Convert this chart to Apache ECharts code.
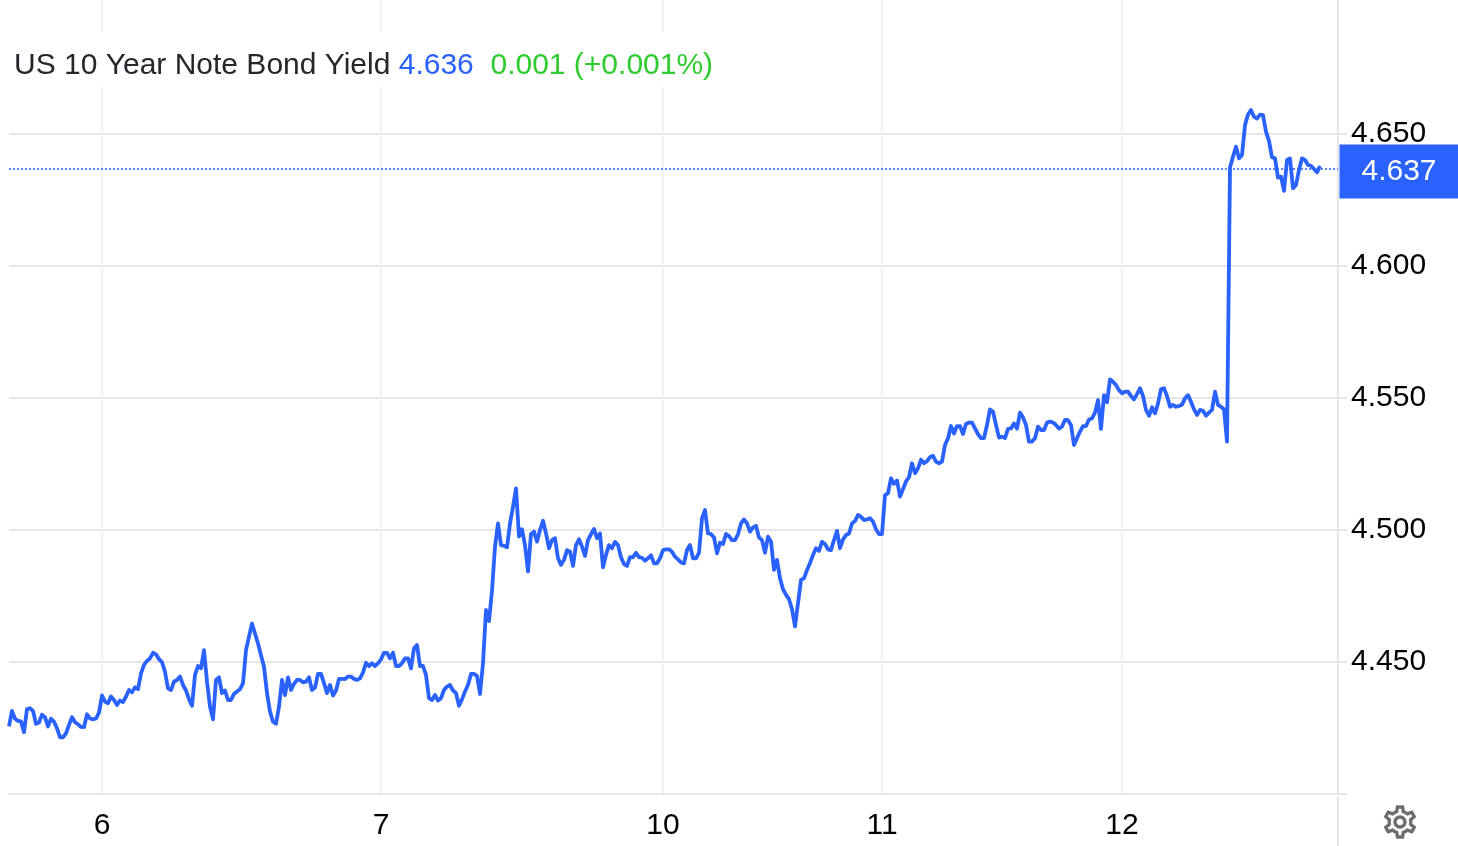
<!DOCTYPE html>
<html>
<head>
<meta charset="utf-8">
<title>US 10 Year Note Bond Yield</title>
<style>
    html, body { margin: 0; padding: 0; background: #fff; }
    #chart { width: 1458px; height: 846px; }
</style>
<script src="https://cdn.jsdelivr.net/npm/echarts@6/dist/echarts.min.js"></script>
</head>
<body>
<div id="chart"></div>
<script>
// bars are evenly spaced
const yields = [
    4.4256,4.4315,4.4285,4.4277,4.4275,4.4234,4.4322,4.4325,4.4315,4.4266,
    4.4271,4.43,4.4291,4.4256,4.4285,4.4274,4.4249,4.4215,4.4215,4.423,
    4.4262,4.4291,4.4272,4.4264,4.4254,4.4253,4.4302,4.4286,4.4283,4.4286,
    4.4308,4.4373,4.435,4.4344,4.4369,4.4356,4.4337,4.4354,4.4348,4.4369,
    4.4394,4.4385,4.4404,4.4397,4.4457,4.4489,4.4504,4.4514,4.4535,4.4529,
    4.4511,4.4499,4.4463,4.44,4.4394,4.4426,4.4432,4.4445,4.4413,4.4392,
    4.4359,4.4334,4.4451,4.4485,4.4476,4.4545,4.4426,4.4331,4.4283,4.4432,
    4.4442,4.4382,4.4392,4.4356,4.4356,4.4379,4.4388,4.4397,4.4419,4.4545,
    4.4596,4.4646,4.4608,4.457,4.4526,4.4482,4.4382,4.4312,4.4274,4.4266,
    4.4331,4.4432,4.4375,4.4442,4.4394,4.4417,4.4432,4.4432,4.4423,4.4426,
    4.4442,4.4394,4.4403,4.4455,4.4455,4.442,4.4382,4.4413,4.4373,4.4392,
    4.4436,4.4436,4.4435,4.4445,4.4445,4.4436,4.4432,4.4438,4.446,4.4497,
    4.4485,4.4495,4.4485,4.4495,4.451,4.4535,4.4535,4.4514,4.4535,4.4485,
    4.4485,4.4495,4.4514,4.4514,4.4476,4.4552,4.4564,4.4485,4.4485,4.4451,
    4.4363,4.4356,4.4375,4.4354,4.4363,4.4394,4.4407,4.4413,4.4392,4.4382,
    4.4334,4.4359,4.4388,4.4413,4.4455,4.4455,4.4447,4.4379,4.4495,4.4697,
    4.4655,4.477,4.4937,4.5025,4.4943,4.494,4.4935,4.5025,4.5088,4.5158,
    4.4975,4.5003,4.4943,4.4843,4.4985,4.4994,4.4956,4.5,4.5035,4.4987,
    4.4931,4.4962,4.4969,4.4893,4.4868,4.4887,4.4924,4.4918,4.4864,4.4943,
    4.4965,4.4937,4.4902,4.4962,4.4984,4.5004,4.4969,4.4987,4.4859,4.4906,
    4.4943,4.4931,4.4955,4.4943,4.4897,4.4871,4.4864,4.4897,4.4897,4.4914,
    4.4897,4.4895,4.4884,4.4893,4.4904,4.4874,4.4874,4.4893,4.4924,4.4927,
    4.4927,4.4918,4.4899,4.4889,4.4877,4.4874,4.4924,4.4943,4.4893,4.4893,
    4.4914,4.5044,4.5076,4.4987,4.4985,4.4972,4.4912,4.4952,4.4947,4.4985,
    4.4977,4.4962,4.4962,4.4984,4.5025,4.504,4.5025,4.4994,4.501,4.5016,
    4.4972,4.4962,4.4914,4.4975,4.4956,4.4849,4.4887,4.4817,4.4776,4.4754,
    4.4738,4.47,4.4635,4.4723,4.4811,4.4817,4.4849,4.4875,4.4905,4.4931,
    4.4921,4.4955,4.4947,4.4927,4.4924,4.4962,4.4997,4.4931,4.4965,4.4981,
    4.4987,4.5025,4.5034,4.5057,4.505,4.5038,4.504,4.5045,4.5032,4.5003,
    4.4985,4.4985,4.5132,4.514,4.5196,4.5175,4.5188,4.5127,4.5155,4.5184,
    4.52,4.5253,4.5215,4.5234,4.5266,4.5253,4.5261,4.5276,4.5281,4.5259,
    4.5253,4.5259,4.5322,4.5348,4.5394,4.5366,4.5394,4.5394,4.5364,4.5402,
    4.5407,4.5407,4.5385,4.5363,4.5348,4.5348,4.5398,4.5457,4.5448,4.5398,
    4.535,4.5354,4.5348,4.5383,4.5385,4.5404,4.5384,4.5445,4.5427,4.5398,
    4.5335,4.5335,4.5348,4.5392,4.5379,4.5379,4.5407,4.5411,4.5407,4.5398,
    4.5384,4.5392,4.5417,4.5416,4.5398,4.5322,4.5348,4.5373,4.5394,4.5394,
    4.5419,4.5423,4.5445,4.5492,4.5383,4.5511,4.5484,4.5571,4.5562,4.5549,
    4.553,4.5518,4.5524,4.5524,4.5508,4.5495,4.5515,4.5537,4.5508,4.5455,
    4.5433,4.5465,4.5442,4.548,4.5534,4.5537,4.5508,4.5467,4.5474,4.5467,
    4.547,4.5475,4.5499,4.5511,4.5486,4.5457,4.5436,4.5455,4.5452,4.5433,
    4.5445,4.5455,4.5524,4.5474,4.5467,4.5457,4.5335,4.6373,4.6414,4.6452,
    4.6408,4.6421,4.6534,4.6574,4.6591,4.6566,4.6559,4.6574,4.6572,4.6509,
    4.6474,4.6412,4.6408,4.6335,4.6339,4.6285,4.6402,4.6408,4.6295,4.6307,
    4.6364,4.6408,4.6402,4.6383,4.638,4.6368,4.6355,4.6379,
]
const barCount = 444  // axis runs on a little past the last bar
const dayLabels = ['6', '7', '10', '11', '12']
const dayBars = [31, 124, 218, 291, 371]
const yTicks = [4.4, 4.45, 4.5, 4.55, 4.6, 4.65]
const lastClose = 4.637

const titleName = 'US 10 Year Note Bond Yield'
const titlePrice = '4.636'
const titleChange = '0.001 (+0.001%)'

const blue = '#2962ff'
const fontFamily = '"Liberation Sans", Arial, sans-serif'

const categories = Array.from({length: barCount}, (_, i) => {
    const pos = dayBars.indexOf(i)
    return pos >= 0 ? dayLabels[pos] : ''
})

const gearIcon = 'M19.43 12.98c.04-.32.07-.64.07-.98 0-.34-.03-.66-.07-.98l2.11-1.65c.19-.15.24-.42.12-.64l-2-3.46c-.09-.16-.26-.25-.44-.25-.06 0-.12.01-.17.03l-2.49 1c-.52-.4-1.08-.73-1.69-.98l-.38-2.65C14.46 2.18 14.25 2 14 2h-4c-.25 0-.46.18-.49.42l-.38 2.65c-.61.25-1.17.59-1.69.98l-2.49-1c-.06-.02-.12-.03-.18-.03-.17 0-.34.09-.43.25l-2 3.46c-.13.22-.07.49.12.64l2.11 1.65c-.04.32-.07.65-.07.98 0 .33.03.66.07.98l-2.11 1.65c-.19.15-.24.42-.12.64l2 3.46c.09.16.26.25.44.25.06 0 .12-.01.17-.03l2.49-1c.52.4 1.08.73 1.69.98l.38 2.65c.03.24.24.42.49.42h4c.25 0 .46-.18.49-.42l.38-2.65c.61-.25 1.17-.59 1.69-.98l2.49 1c.06.02.12.03.18.03.17 0 .34-.09.43-.25l2-3.46c.12-.22.07-.49-.12-.64l-2.11-1.65zm-1.98-1.71c.04.31.05.52.05.73 0 .21-.02.43-.05.73l-.14 1.13.89.7 1.08.84-.7 1.21-1.27-.51-1.04-.42-.9.68c-.43.32-.84.56-1.25.73l-1.06.43-.16 1.13-.2 1.35h-1.4l-.19-1.35-.16-1.13-1.06-.43c-.43-.18-.83-.41-1.23-.71l-.91-.7-1.06.43-1.27.51-.7-1.21 1.08-.84.89-.7-.14-1.13c-.03-.31-.05-.54-.05-.74s.02-.43.05-.73l.14-1.13-.89-.7-1.08-.84.7-1.21 1.27.51 1.04.42.9-.68c.43-.32.84-.56 1.25-.73l1.06-.43.16-1.13.2-1.35h1.39l.19 1.35.16 1.13 1.06.43c.43.18.83.41 1.23.71l.91.7 1.06-.43 1.27-.51.7 1.21-1.07.85-.89.7.14 1.13zM12 8c-2.21 0-4 1.79-4 4s1.79 4 4 4 4-1.79 4-4-1.79-4-4-4zm0 6c-1.1 0-2-.9-2-2s.9-2 2-2 2 .9 2 2-.9 2-2 2z'
echarts.graphic.registerShape('gear', echarts.graphic.extendPath(gearIcon, {}))

const chart = echarts.init(document.getElementById('chart'), null, {renderer: 'canvas'})

const option = {
    animation: false,
    backgroundColor: '#fff',
    textStyle: {fontFamily: fontFamily},
    title: {
        text: `{name|${titleName}} {price|${titlePrice}}  {change|${titleChange}}`,
        left: 4,
        top: 32,
        padding: [19, 8, 6, 10],
        backgroundColor: '#fff',
        textStyle: {
            fontWeight: 'normal',
            fontSize: 30,
            rich: {
                name: {fontSize: 30, fontWeight: 'normal', lineHeight: 30, color: '#26262b', fontFamily: fontFamily},
                price: {fontSize: 30, fontWeight: 'normal', lineHeight: 30, color: blue, fontFamily: fontFamily},
                change: {fontSize: 30, fontWeight: 'normal', lineHeight: 30, color: '#2fcc2f', fontFamily: fontFamily},
            },
        },
    },
    grid: {left: 9, right: 120, top: 0, bottom: 52},
    xAxis: {
        type: 'category',
        boundaryGap: false,
        data: categories,
        axisLine: {lineStyle: {color: '#e6e6e6', width: 2}},
        axisTick: {show: false},
        axisLabel: {
            interval: (index, value) => value !== '',
            color: '#000',
            fontSize: 30,
            margin: 17,
        },
        splitLine: {
            show: true,
            interval: (index, value) => value !== '',
            lineStyle: {color: '#eff2f6', width: 2},
        },
    },
    yAxis: {
        type: 'value',
        position: 'right',
        min: 4.4,
        max: 4.7008,
        axisLine: {show: true, lineStyle: {color: '#e6e6e6', width: 2}},
        axisTick: {show: true, length: 9, customValues: yTicks, lineStyle: {color: '#e6e6e6', width: 2}},
        axisLabel: {
            customValues: yTicks.slice(1),
            formatter: (value) => value.toFixed(3),
            color: '#000',
            fontSize: 30,
            margin: 13,
            lineHeight: 32,
        },
        splitLine: {show: true, lineStyle: {color: '#e6e6e6', width: 2}},
    },
    series: {
        name: titleName,
        type: 'line',
        data: yields,
        showSymbol: false,
        symbol: 'none',
        lineStyle: {color: blue, width: 3.8, join: 'round'},
        markLine: {
            silent: true,
            symbol: 'none',
            precision: 3,
            lineStyle: {color: blue, type: [2, 2], width: 1.5},
            label: {
                position: 'end',
                distance: 0,
                offset: [61, 3],
                formatter: lastClose.toFixed(3),
                color: '#fff',
                fontSize: 30,
                backgroundColor: blue,
                width: 119,
                height: 54,
                lineHeight: 64,
                align: 'center',
            },
            data: [{yAxis: lastClose}],
        },
    },
    graphic: [
        // right axis carries on under the x axis
        {type: 'line', shape: {x1: 1338, y1: 797, x2: 1338, y2: 846}, style: {stroke: '#e6e6e6', lineWidth: 2}},
        {
            type: 'gear',
            x: 1380,
            y: 802,
            scaleX: 40 / 24,
            scaleY: 40 / 24,
            style: {fill: '#6e6e6e'},
        },
    ],
}
chart.setOption(option)
</script>
</body>
</html>
